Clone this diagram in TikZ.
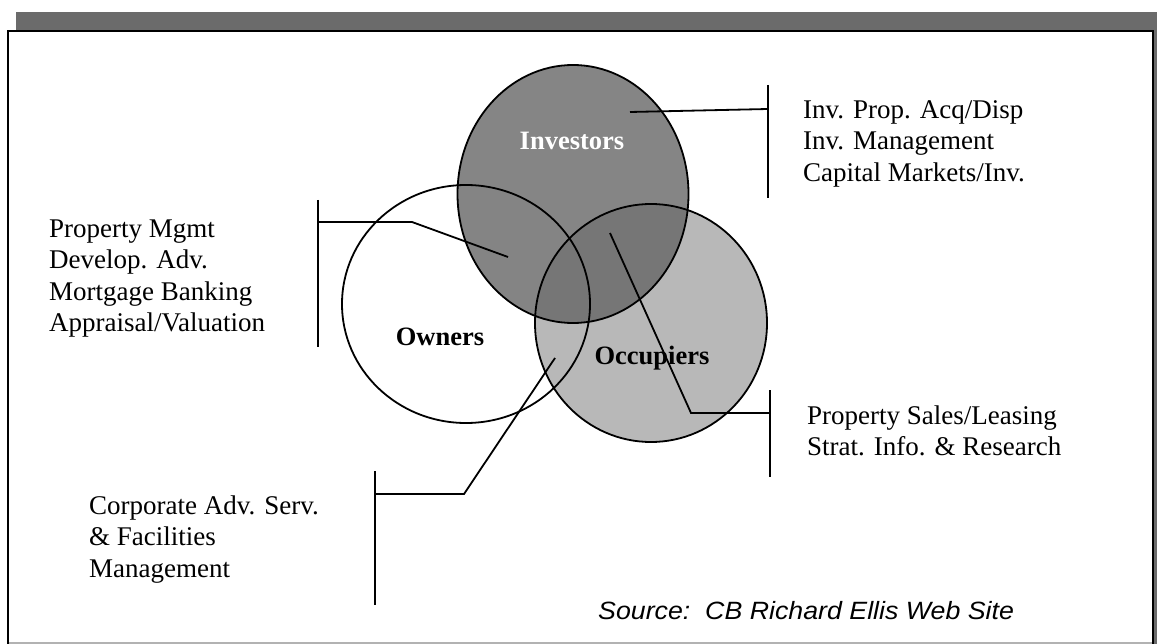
\documentclass[tikz,border=0pt]{standalone}
\usepackage{fontspec}
\setmainfont{Liberation Serif}
\newfontfamily\srcfont{Liberation Sans}[FakeStretch=1.07]
\usetikzlibrary{shapes.geometric}
\pgfdeclarelayer{background}
\pgfsetlayers{background,main}
\begin{document}
\begin{tikzpicture}[x=1pt,y=-1pt,
  circ/.style={ellipse, draw, line width=1.8pt, inner sep=0pt, outer sep=0pt},
  conn/.style={line width=1.8pt},
  body/.style={anchor=north west, inner sep=0pt, align=left, font=\fontsize{27}{31.5}\selectfont},
  lab/.style={anchor=base, inner sep=0pt, font=\fontsize{26.5}{30}\selectfont\bfseries},
  shade/.style={fill=black!58}
]
\useasboundingbox (0,0) rectangle (1157,644);
% frame with shadow band
\fill[shade] (16,12) rectangle (1157,31);
\fill[shade] (1152,12) rectangle (1157,644);
\draw[black!30, line width=1.5pt] (8,643) -- (1153,643);
\draw[line width=2.2pt] (8,644) -- (8,31) -- (1153,31) -- (1153,644);

% circles (outlines as nodes)
\node[circ, minimum width=248pt, minimum height=238pt] (own) at (466,304) {};
\node[circ, minimum width=232pt, minimum height=238pt] (occ) at (651,323) {};
\node[circ, minimum width=231pt, minimum height=258pt] (inv) at (573,194) {};
% fills
\begin{pgfonlayer}{background}
  \fill[white] (own.center) ellipse [x radius=124, y radius=119];
  \fill[black!28] (occ.center) ellipse [x radius=116, y radius=119];
  \fill[black!60, fill opacity=0.8] (inv.center) ellipse [x radius=115.5, y radius=129];
\end{pgfonlayer}

% circle labels
\node[lab, text=white] (invlab) at (572,150) {Investors};
\node[lab] (ownlab) at (440,346) {Owners};
\node[lab] (occlab) at (652,365) {Occupiers};

% text blocks
\node[body] (invtxt) at (803,96) {\strut Inv. Prop. Acq/Disp\\Inv. Management\\Capital Markets/Inv.};
\node[body] (owntxt) at (49,215) {\strut Property Mgmt\\Develop. Adv.\\Mortgage Banking\\Appraisal/Valuation};
\node[body] (occtxt) at (807,402) {\strut Property Sales/Leasing\\Strat. Info. \& Research};
\node[body] (cortxt) at (89,492) {\strut Corporate Adv. Serv.\\\& Facilities\\Management};
\node[anchor=base west, inner sep=0pt, font=\srcfont\itshape\fontsize{25}{30}\selectfont] (src) at (598,619) {Source:\ \ CB Richard Ellis Web Site};

% brackets and leaders
\coordinate (invT) at (768,85);
\coordinate (invB) at (768,198);
\coordinate (invJ) at (768,109);
\coordinate (invP) at (630,112);
\draw[conn] (invT) -- (invB);
\draw[conn] (invJ) -- (invP);

\coordinate (ownT) at (318,200);
\coordinate (ownB) at (318,347);
\coordinate (ownJ) at (318,222);
\coordinate (ownK) at (412,222);
\coordinate (ownP) at (508,257);
\draw[conn] (ownT) -- (ownB);
\draw[conn] (ownJ) -- (ownK) -- (ownP);

\coordinate (occT) at (770,390);
\coordinate (occB) at (770,477);
\coordinate (occJ) at (770,413);
\coordinate (occK) at (691,413);
\coordinate (occP) at (610,233);
\draw[conn] (occT) -- (occB);
\draw[conn] (occJ) -- (occK) -- (occP);

\coordinate (corT) at (375,471);
\coordinate (corB) at (375,605);
\coordinate (corJ) at (375,494);
\coordinate (corK) at (464,494);
\coordinate (corP) at (555,358);
\draw[conn] (corT) -- (corB);
\draw[conn] (corJ) -- (corK) -- (corP);
\end{tikzpicture}
\end{document}
